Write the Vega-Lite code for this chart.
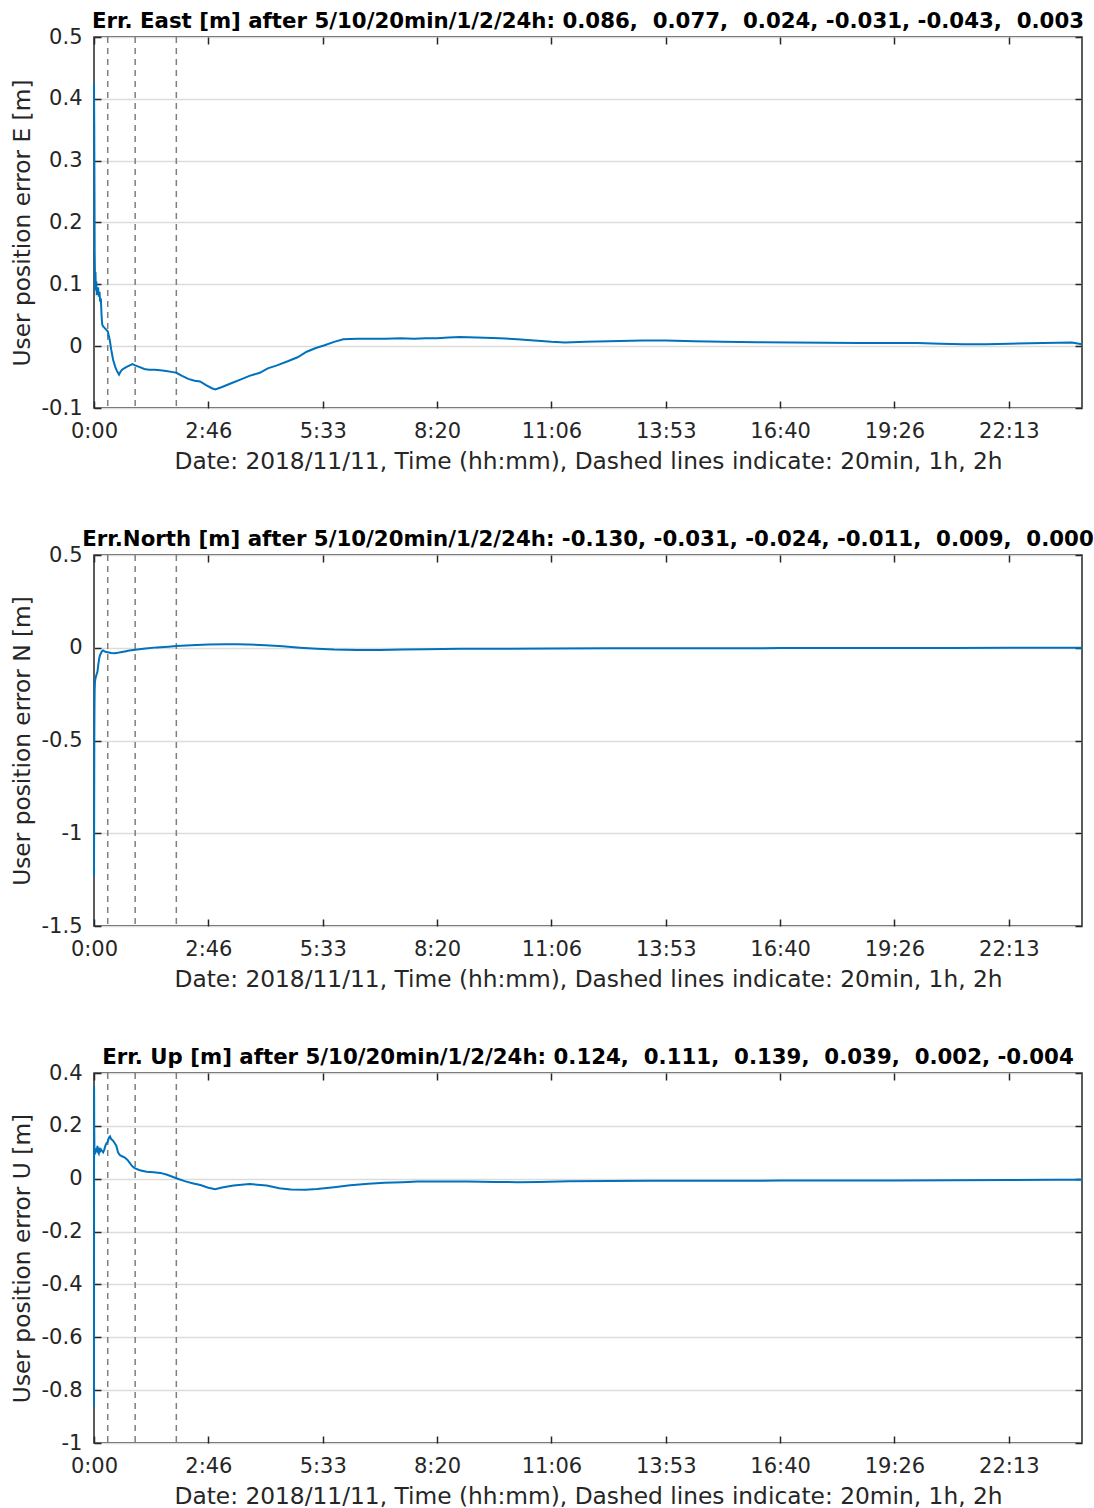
{
  "$schema": "https://vega.github.io/schema/vega-lite/v6.json",
  "padding": {"left": 9, "top": 9, "right": 0, "bottom": 0},
  "spacing": 53,
  "config": {
    "font": "DejaVu Sans",
    "view": {"stroke": "#262626", "strokeWidth": 1.5},
    "axis": {
      "domain": false,
      "grid": true,
      "gridColor": "#dcdcdc",
      "gridWidth": 1.5,
      "tickColor": "#262626",
      "tickWidth": 1.5,
      "tickSize": -7,
      "labelPadding": 19,
      "labelFlush": false,
      "labelFontSize": 21,
      "labelColor": "#262626",
      "titleFontSize": 23.3,
      "titleFontWeight": "normal",
      "titleColor": "#262626"
    },
    "title": {"fontSize": 21.3, "fontWeight": "bold", "color": "#000000", "anchor": "middle", "frame": "group", "offset": -6}
  },
  "datasets": {
    "marks": [{"t": 1200}, {"t": 3600}, {"t": 7200}],
    "east": [
      {"t":0,"v":0.425},{"t":20,"v":0.36},{"t":40,"v":0.26},{"t":60,"v":0.15},{"t":80,"v":0.12},{"t":100,"v":0.09},{"t":130,"v":0.12},{"t":160,"v":0.09},{"t":200,"v":0.105},{"t":240,"v":0.085},{"t":300,"v":0.086},{"t":360,"v":0.095},{"t":420,"v":0.08},{"t":480,"v":0.088},{"t":540,"v":0.072},{"t":600,"v":0.077},{"t":660,"v":0.05},{"t":720,"v":0.035},{"t":800,"v":0.032},{"t":900,"v":0.03},{"t":1000,"v":0.028},{"t":1100,"v":0.026},{"t":1200,"v":0.024},{"t":1370,"v":0.011},{"t":1500,"v":-0.005},{"t":1670,"v":-0.022},{"t":1850,"v":-0.033},{"t":2000,"v":-0.040},{"t":2190,"v":-0.046},{"t":2300,"v":-0.042},{"t":2450,"v":-0.038},{"t":2700,"v":-0.035},{"t":2900,"v":-0.033},{"t":3130,"v":-0.031},{"t":3360,"v":-0.029},{"t":3600,"v":-0.031},{"t":4000,"v":-0.034},{"t":4400,"v":-0.037},{"t":4800,"v":-0.038},{"t":5300,"v":-0.038},{"t":5800,"v":-0.039},{"t":6300,"v":-0.040},{"t":6900,"v":-0.042},{"t":7200,"v":-0.043},{"t":7700,"v":-0.048},{"t":8240,"v":-0.053},{"t":8800,"v":-0.056},{"t":9270,"v":-0.057},{"t":9800,"v":-0.063},{"t":10300,"v":-0.068},{"t":10600,"v":-0.070},{"t":11200,"v":-0.066},{"t":12000,"v":-0.060},{"t":12800,"v":-0.054},{"t":13600,"v":-0.048},{"t":14500,"v":-0.043},{"t":15200,"v":-0.036},{"t":16000,"v":-0.031},{"t":17000,"v":-0.024},{"t":17800,"v":-0.018},{"t":18600,"v":-0.009},{"t":19400,"v":-0.003},{"t":20100,"v":0.001},{"t":21000,"v":0.007},{"t":21800,"v":0.011},{"t":23000,"v":0.012},{"t":24000,"v":0.012},{"t":25500,"v":0.012},{"t":26800,"v":0.013},{"t":28000,"v":0.012},{"t":29000,"v":0.013},{"t":30000,"v":0.013},{"t":31000,"v":0.014},{"t":32000,"v":0.015},{"t":33500,"v":0.014},{"t":35500,"v":0.013},{"t":37000,"v":0.011},{"t":38500,"v":0.009},{"t":40000,"v":0.007},{"t":41200,"v":0.006},{"t":43000,"v":0.007},{"t":45000,"v":0.008},{"t":48000,"v":0.009},{"t":50000,"v":0.009},{"t":52500,"v":0.008},{"t":55000,"v":0.007},{"t":58000,"v":0.0065},{"t":61000,"v":0.006},{"t":64000,"v":0.0055},{"t":67000,"v":0.005},{"t":70000,"v":0.005},{"t":72000,"v":0.005},{"t":74000,"v":0.004},{"t":76000,"v":0.003},{"t":78000,"v":0.003},{"t":80000,"v":0.004},{"t":83000,"v":0.005},{"t":85500,"v":0.006},{"t":86400,"v":0.003}
    ],
    "north": [
      {"t":0,"v":-1.232},{"t":10,"v":-1.0},{"t":20,"v":-0.7},{"t":30,"v":-0.45},{"t":45,"v":-0.3},{"t":60,"v":-0.22},{"t":90,"v":-0.18},{"t":150,"v":-0.16},{"t":220,"v":-0.145},{"t":300,"v":-0.13},{"t":380,"v":-0.09},{"t":450,"v":-0.06},{"t":520,"v":-0.04},{"t":600,"v":-0.031},{"t":700,"v":-0.018},{"t":790,"v":-0.014},{"t":900,"v":-0.018},{"t":1050,"v":-0.023},{"t":1200,"v":-0.024},{"t":1500,"v":-0.028},{"t":1800,"v":-0.03},{"t":2200,"v":-0.026},{"t":2700,"v":-0.02},{"t":3100,"v":-0.015},{"t":3600,"v":-0.011},{"t":4500,"v":-0.004},{"t":5500,"v":0.002},{"t":6500,"v":0.006},{"t":7200,"v":0.009},{"t":8500,"v":0.013},{"t":10000,"v":0.017},{"t":11500,"v":0.019},{"t":12500,"v":0.019},{"t":13500,"v":0.018},{"t":15000,"v":0.014},{"t":16500,"v":0.008},{"t":18000,"v":0.0},{"t":19500,"v":-0.006},{"t":21000,"v":-0.01},{"t":23000,"v":-0.012},{"t":25000,"v":-0.012},{"t":27000,"v":-0.01},{"t":29000,"v":-0.008},{"t":32000,"v":-0.006},{"t":36000,"v":-0.005},{"t":40000,"v":-0.004},{"t":45000,"v":-0.003},{"t":50000,"v":-0.003},{"t":55000,"v":-0.003},{"t":60000,"v":-0.002},{"t":65000,"v":-0.002},{"t":70000,"v":-0.001},{"t":75000,"v":-0.001},{"t":80000,"v":0.0},{"t":86400,"v":0.0}
    ],
    "up": [
      {"t":0,"v":-0.862},{"t":8,"v":0.35},{"t":20,"v":0.2},{"t":35,"v":0.12},{"t":50,"v":0.09},{"t":70,"v":0.11},{"t":100,"v":0.095},{"t":130,"v":0.11},{"t":160,"v":0.1},{"t":200,"v":0.115},{"t":240,"v":0.1},{"t":300,"v":0.124},{"t":360,"v":0.1},{"t":420,"v":0.095},{"t":480,"v":0.11},{"t":540,"v":0.105},{"t":600,"v":0.111},{"t":700,"v":0.105},{"t":800,"v":0.1},{"t":900,"v":0.11},{"t":1000,"v":0.125},{"t":1100,"v":0.135},{"t":1200,"v":0.139},{"t":1300,"v":0.155},{"t":1400,"v":0.16},{"t":1500,"v":0.15},{"t":1650,"v":0.145},{"t":1800,"v":0.135},{"t":1950,"v":0.125},{"t":2100,"v":0.1},{"t":2250,"v":0.09},{"t":2450,"v":0.085},{"t":2700,"v":0.08},{"t":2950,"v":0.07},{"t":3200,"v":0.055},{"t":3400,"v":0.045},{"t":3600,"v":0.039},{"t":4000,"v":0.032},{"t":4600,"v":0.026},{"t":5200,"v":0.024},{"t":5800,"v":0.022},{"t":6400,"v":0.015},{"t":7200,"v":0.002},{"t":8000,"v":-0.01},{"t":8700,"v":-0.018},{"t":9300,"v":-0.024},{"t":10000,"v":-0.034},{"t":10600,"v":-0.04},{"t":11200,"v":-0.033},{"t":12200,"v":-0.026},{"t":13600,"v":-0.02},{"t":15100,"v":-0.026},{"t":16200,"v":-0.036},{"t":17200,"v":-0.041},{"t":18500,"v":-0.042},{"t":19500,"v":-0.039},{"t":21000,"v":-0.032},{"t":22400,"v":-0.025},{"t":24000,"v":-0.019},{"t":25400,"v":-0.015},{"t":27000,"v":-0.013},{"t":28300,"v":-0.011},{"t":30500,"v":-0.011},{"t":32700,"v":-0.011},{"t":35000,"v":-0.012},{"t":37000,"v":-0.013},{"t":39000,"v":-0.012},{"t":41500,"v":-0.01},{"t":45000,"v":-0.009},{"t":48700,"v":-0.008},{"t":55000,"v":-0.008},{"t":60000,"v":-0.007},{"t":65000,"v":-0.007},{"t":70000,"v":-0.007},{"t":75000,"v":-0.006},{"t":80000,"v":-0.005},{"t":84000,"v":-0.004},{"t":86400,"v":-0.004}
    ]
  },
  "vconcat": [
    {
      "width": 988, "height": 371,
      "title": {"text": "Err. East [m] after 5/10/20min/1/2/24h: 0.086,\u00a0 0.077,\u00a0 0.024, -0.031, -0.043,\u00a0 0.003"},
      "layer": [
        {"data": {"name": "marks"}, "mark": {"type": "rule", "color": "#7f7f7f", "strokeDash": [6, 5], "strokeWidth": 1.5},
         "encoding": {"x": {"field": "t", "type": "quantitative", "scale": {"domain": [0, 86400], "nice": false, "zero": false},
           "axis": {"orient": "top", "labels": false, "grid": false, "title": null, "values": [0,10000,20000,30000,40000,50000,60000,70000,80000]}}}},
        {"data": {"name": "east"}, "mark": {"type": "line", "color": "#0072BD", "strokeWidth": 2},
         "encoding": {
           "x": {"field": "t", "type": "quantitative", "scale": {"domain": [0, 86400], "nice": false, "zero": false},
             "axis": {"orient": "bottom", "values": [0,10000,20000,30000,40000,50000,60000,70000,80000],
               "labelExpr": "floor(datum.value/3600) + ':' + (floor((datum.value%3600)/60) < 10 ? '0' : '') + floor((datum.value%3600)/60)",
               "title": "Date: 2018/11/11, Time (hh:mm), Dashed lines indicate: 20min, 1h, 2h", "titlePadding": 9}},
           "y": {"field": "v", "type": "quantitative", "scale": {"domain": [-0.1, 0.5], "nice": false, "zero": false},
             "axis": {"orient": "left", "values": [-0.1,0,0.1,0.2,0.3,0.4,0.5], "labelExpr": "'' + datum.value",
               "title": "User position error E [m]", "minExtent": 48, "maxExtent": 48, "titlePadding": 12}}
         }},
        {"data": {"name": "east"}, "mark": {"type": "line", "opacity": 0},
         "encoding": {
           "x": {"field": "t", "type": "quantitative", "axis": null},
           "y": {"field": "v", "type": "quantitative", "axis": {"orient": "right", "labels": false, "grid": false, "title": null, "values": [-0.1,0,0.1,0.2,0.3,0.4,0.5]}}
         }}
      ],
      "resolve": {"axis": {"x": "independent", "y": "independent"}}
    },
    {
      "width": 988, "height": 371,
      "title": {"text": "Err.North [m] after 5/10/20min/1/2/24h: -0.130, -0.031, -0.024, -0.011,\u00a0 0.009,\u00a0 0.000"},
      "layer": [
        {"data": {"name": "marks"}, "mark": {"type": "rule", "color": "#7f7f7f", "strokeDash": [6, 5], "strokeWidth": 1.5},
         "encoding": {"x": {"field": "t", "type": "quantitative", "scale": {"domain": [0, 86400], "nice": false, "zero": false},
           "axis": {"orient": "top", "labels": false, "grid": false, "title": null, "values": [0,10000,20000,30000,40000,50000,60000,70000,80000]}}}},
        {"data": {"name": "north"}, "mark": {"type": "line", "color": "#0072BD", "strokeWidth": 2},
         "encoding": {
           "x": {"field": "t", "type": "quantitative", "scale": {"domain": [0, 86400], "nice": false, "zero": false},
             "axis": {"orient": "bottom", "values": [0,10000,20000,30000,40000,50000,60000,70000,80000],
               "labelExpr": "floor(datum.value/3600) + ':' + (floor((datum.value%3600)/60) < 10 ? '0' : '') + floor((datum.value%3600)/60)",
               "title": "Date: 2018/11/11, Time (hh:mm), Dashed lines indicate: 20min, 1h, 2h", "titlePadding": 9}},
           "y": {"field": "v", "type": "quantitative", "scale": {"domain": [-1.5, 0.5], "nice": false, "zero": false},
             "axis": {"orient": "left", "values": [-1.5,-1,-0.5,0,0.5], "labelExpr": "'' + datum.value",
               "title": "User position error N [m]", "minExtent": 48, "maxExtent": 48, "titlePadding": 12}}
         }},
        {"data": {"name": "north"}, "mark": {"type": "line", "opacity": 0},
         "encoding": {
           "x": {"field": "t", "type": "quantitative", "axis": null},
           "y": {"field": "v", "type": "quantitative", "axis": {"orient": "right", "labels": false, "grid": false, "title": null, "values": [-1.5,-1,-0.5,0,0.5]}}
         }}
      ],
      "resolve": {"axis": {"x": "independent", "y": "independent"}}
    },
    {
      "width": 988, "height": 370,
      "title": {"text": "Err. Up [m] after 5/10/20min/1/2/24h: 0.124,\u00a0 0.111,\u00a0 0.139,\u00a0 0.039,\u00a0 0.002, -0.004"},
      "layer": [
        {"data": {"name": "marks"}, "mark": {"type": "rule", "color": "#7f7f7f", "strokeDash": [6, 5], "strokeWidth": 1.5},
         "encoding": {"x": {"field": "t", "type": "quantitative", "scale": {"domain": [0, 86400], "nice": false, "zero": false},
           "axis": {"orient": "top", "labels": false, "grid": false, "title": null, "values": [0,10000,20000,30000,40000,50000,60000,70000,80000]}}}},
        {"data": {"name": "up"}, "mark": {"type": "line", "color": "#0072BD", "strokeWidth": 2},
         "encoding": {
           "x": {"field": "t", "type": "quantitative", "scale": {"domain": [0, 86400], "nice": false, "zero": false},
             "axis": {"orient": "bottom", "values": [0,10000,20000,30000,40000,50000,60000,70000,80000],
               "labelExpr": "floor(datum.value/3600) + ':' + (floor((datum.value%3600)/60) < 10 ? '0' : '') + floor((datum.value%3600)/60)",
               "title": "Date: 2018/11/11, Time (hh:mm), Dashed lines indicate: 20min, 1h, 2h", "titlePadding": 9}},
           "y": {"field": "v", "type": "quantitative", "scale": {"domain": [-1, 0.4], "nice": false, "zero": false},
             "axis": {"orient": "left", "values": [-1,-0.8,-0.6,-0.4,-0.2,0,0.2,0.4], "labelExpr": "'' + datum.value",
               "title": "User position error U [m]", "minExtent": 48, "maxExtent": 48, "titlePadding": 12}}
         }},
        {"data": {"name": "up"}, "mark": {"type": "line", "opacity": 0},
         "encoding": {
           "x": {"field": "t", "type": "quantitative", "axis": null},
           "y": {"field": "v", "type": "quantitative", "axis": {"orient": "right", "labels": false, "grid": false, "title": null, "values": [-1,-0.8,-0.6,-0.4,-0.2,0,0.2,0.4]}}
         }}
      ],
      "resolve": {"axis": {"x": "independent", "y": "independent"}}
    }
  ]
}
